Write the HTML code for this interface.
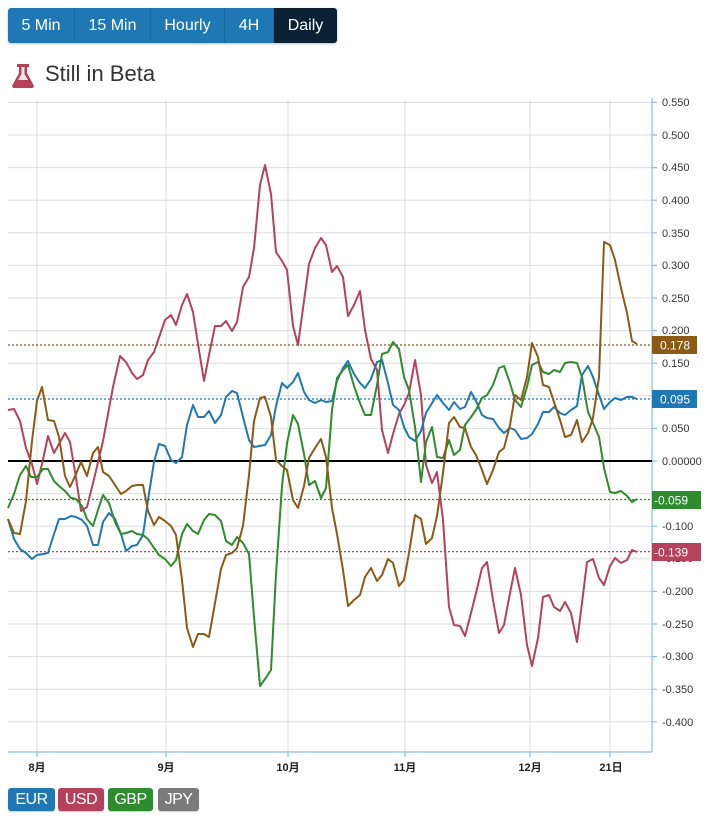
<!DOCTYPE html>
<html><head><meta charset="utf-8"><style>
body{margin:0;width:712px;height:816px;background:#fff;font-family:"Liberation Sans","Noto Sans CJK JP",sans-serif;position:relative;overflow:hidden}
.btns{position:absolute;left:8px;top:8px;height:35px;display:flex;border-radius:3px;overflow:hidden;box-shadow:0 1px 2px rgba(0,0,0,.25)}
.btns div{background:#1f78b4;color:#fff;font-size:16px;line-height:35px;text-align:center;border-right:1px solid #1a6aa0}
.title{position:absolute;left:45px;top:61px;font-size:22px;color:#333}
.leg{position:absolute;top:788px;height:23px;color:#fff;font-size:16px;line-height:23px;text-align:center;border-radius:3px;box-shadow:0 1px 1px rgba(0,0,0,.2);letter-spacing:-0.5px}
</style></head><body>
<div class="btns"><div style="width:66px">5 Min</div><div style="width:75px">15 Min</div><div style="width:73px">Hourly</div><div style="width:48px">4H</div><div style="width:63px;background:#0b2236;border:0">Daily</div></div>
<svg style="position:absolute;left:12px;top:64px" width="22" height="24" viewBox="0 0 22 24"><path d="M5 0h12v3h-2v6l6.5 12c1 1.6 0 3-1.8 3H2.3C.5 24-.5 22.6.5 21L7 9V3H5z" fill="#b5425a"/><path d="M9.5 3h3v7l3.5 6h-10l3.5-6z" fill="#fff" opacity=".85"/></svg>
<div class="title">Still in Beta</div>
<svg style="position:absolute;left:0;top:0" width="712" height="816">
<g stroke="#d9dcde" stroke-width="1">
<line x1="37" y1="100" x2="37" y2="752"/><line x1="166" y1="100" x2="166" y2="752"/><line x1="288" y1="100" x2="288" y2="752"/><line x1="405" y1="100" x2="405" y2="752"/><line x1="530" y1="100" x2="530" y2="752"/><line x1="610" y1="100" x2="610" y2="752"/>
<line x1="8" y1="102.4" x2="652" y2="102.4"/><line x1="8" y1="135" x2="652" y2="135"/><line x1="8" y1="167.6" x2="652" y2="167.6"/><line x1="8" y1="200.2" x2="652" y2="200.2"/><line x1="8" y1="232.8" x2="652" y2="232.8"/><line x1="8" y1="265.4" x2="652" y2="265.4"/><line x1="8" y1="298" x2="652" y2="298"/><line x1="8" y1="330.6" x2="652" y2="330.6"/><line x1="8" y1="363.2" x2="652" y2="363.2"/><line x1="8" y1="395.8" x2="652" y2="395.8"/><line x1="8" y1="428.4" x2="652" y2="428.4"/><line x1="8" y1="493.6" x2="652" y2="493.6"/><line x1="8" y1="526.2" x2="652" y2="526.2"/><line x1="8" y1="558.8" x2="652" y2="558.8"/><line x1="8" y1="591.4" x2="652" y2="591.4"/><line x1="8" y1="624" x2="652" y2="624"/><line x1="8" y1="656.6" x2="652" y2="656.6"/><line x1="8" y1="689.2" x2="652" y2="689.2"/><line x1="8" y1="721.8" x2="652" y2="721.8"/>
</g>
<g stroke="#8cc0e0" stroke-width="1.2"><line x1="652" y1="98" x2="652" y2="752"/><line x1="8" y1="752" x2="652" y2="752"/>
<path d="M652 102.4h5M652 135h5M652 167.6h5M652 200.2h5M652 232.8h5M652 265.4h5M652 298h5M652 330.6h5M652 363.2h5M652 395.8h5M652 428.4h5M652 461h5M652 493.6h5M652 526.2h5M652 558.8h5M652 591.4h5M652 624h5M652 656.6h5M652 689.2h5M652 721.8h5M37 752v5M166 752v5M288 752v5M405 752v5M530 752v5M610 752v5"/></g>
<line x1="8" y1="461" x2="652" y2="461" stroke="#000" stroke-width="2"/>
<g stroke-dasharray="2,2" stroke-width="1.2"><line x1="8" y1="345" x2="652" y2="345" stroke="#8b5a14"/><line x1="8" y1="399" x2="652" y2="399" stroke="#1f78b4"/><line x1="8" y1="499.5" x2="652" y2="499.5" stroke="#2e8b2e"/><line x1="8" y1="551.6" x2="652" y2="551.6" stroke="#b5425a"/></g>
<g font-size="11" fill="#333" font-family="Liberation Sans,sans-serif">
<text x="662" y="106">0.550</text><text x="662" y="139">0.500</text><text x="662" y="171">0.450</text><text x="662" y="204">0.400</text><text x="662" y="269">0.300</text><text x="662" y="237">0.350</text><text x="662" y="302">0.250</text><text x="662" y="334">0.200</text><text x="662" y="367">0.150</text><text x="662" y="432">0.050</text><text x="662" y="465">0.00000</text><text x="662" y="530">-0.100</text><text x="662" y="595">-0.200</text><text x="662" y="628">-0.250</text><text x="662" y="660">-0.300</text><text x="662" y="693">-0.350</text><text x="662" y="726">-0.400</text><text x="662" y="562">-0.150</text>
</g>
<g fill="none" stroke-width="2" stroke-linejoin="round">
<polyline stroke="#b5425a" points="8,410 14,409 20,421 26,448 32,464 37,484 42,464 48,436 54,453 65,433 70,442 76,478 81,511 87,507 95,475 103,441 113,387 120,356 126,362 132,373 137,379 143,375 148,360 154,352 165,320 171,315 176,325 182,305 187,294 193,312 198,344 204,381 209,355 215,326 221,326 226,321 232,331 237,322 243,287 249,277 254,248 260,185 265,165 271,194 276,252 282,261 287,270 293,326 298,345 304,301 309,264 315,248 321,238 326,245 332,272 337,266 343,277 348,316 354,305 360,291 365,330 371,359 377,370 382,430 388,453 393,434 399,414 404,405 409,393 415,360 421,395 426,465 432,483 437,472 443,520 449,607 454,625 460,626 465,636 471,613 476,593 482,568 487,562 493,600 499,633 504,625 510,593 515,568 521,595 527,645 532,666 538,638 543,597 549,595 554,607 560,611 565,602 571,613 577,642 582,603 587,562 593,559 599,578 604,585 610,566 615,558 621,563 627,560 632,550 637,552"/>
<polyline stroke="#1f78b4" points="8,519 14,539 20,549 26,553 32,559 37,555 43,554 48,553 53,537 59,519 65,519 71,516 76,517 82,520 87,526 93,545 98,545 103,522 109,513 115,519 121,534 126,551 132,546 137,545 143,535 148,500 154,462 159,444 165,446 171,460 176,463 182,457 187,425 193,405 198,417 204,417 209,411 215,423 221,415 226,397 232,391 237,393 243,417 249,440 254,447 259,446 265,445 271,435 276,406 282,383 287,388 293,382 298,373 304,392 309,400 315,403 321,400 326,402 332,401 337,381 343,368 348,361 354,374 360,383 365,388 371,379 377,362 382,360 388,383 393,405 399,410 404,427 409,437 415,441 421,431 426,413 432,403 437,395 443,403 449,410 454,402 460,409 465,407 471,392 476,401 482,415 487,418 493,419 499,428 504,433 510,428 515,430 521,439 527,438 532,434 538,424 543,412 549,412 554,407 560,413 565,415 571,410 577,406 582,375 588,366 593,377 599,395 604,409 610,402 615,398 621,400 627,397 632,397 637,399"/>
<polyline stroke="#2e8b2e" points="8,508 14,494 20,475 26,466 31,477 37,477 43,469 48,469 54,481 59,486 65,491 71,498 76,499 82,506 87,519 93,526 98,510 103,495 109,503 115,522 121,534 126,533 132,531 137,534 143,535 148,539 154,548 159,555 165,559 171,566 176,560 182,534 187,524 193,531 198,534 204,520 209,514 215,515 221,521 226,541 232,545 237,537 243,543 249,554 254,617 260,686 265,679 271,670 276,574 282,486 287,443 293,415 298,424 304,454 309,485 315,481 321,498 326,488 332,410 337,378 343,370 348,365 354,386 360,403 365,415 371,415 377,385 382,354 388,352 393,342 399,349 404,377 409,390 415,427 421,482 426,442 432,427 437,457 443,458 449,440 454,455 460,450 465,425 471,417 476,410 482,398 487,395 493,385 499,368 504,366 510,383 515,400 521,407 527,387 532,365 538,362 543,372 549,374 554,370 560,372 565,363 571,362 577,363 582,377 588,412 593,423 599,437 604,468 610,492 615,493 621,491 627,496 632,502 637,499"/>
<polyline stroke="#8b5a14" points="8,519 14,533 20,534 26,501 32,441 37,401 42,387 48,420 54,421 59,437 65,476 70,487 76,474 81,462 87,476 93,453 98,447 103,472 109,476 115,485 121,494 126,491 132,486 137,485 143,485 148,511 154,525 159,517 165,521 171,526 176,535 182,580 187,628 193,647 198,634 204,634 209,637 215,603 221,569 226,555 232,553 237,548 243,526 249,475 254,421 260,398 265,397 271,417 276,460 282,466 287,470 293,500 298,508 304,486 309,458 315,448 321,439 326,457 332,508 337,534 343,570 348,606 354,600 360,595 365,577 371,568 377,581 382,575 388,559 393,563 399,586 404,580 409,553 415,515 421,519 426,544 432,538 437,516 443,473 449,423 454,417 460,427 465,428 471,447 476,455 482,470 487,484 493,470 499,452 504,448 510,425 515,395 521,400 527,377 532,343 538,357 543,385 549,387 554,402 560,420 565,437 571,435 577,420 582,442 588,433 593,418 599,377 604,242 610,245 615,260 621,288 627,313 632,341 637,344"/>
</g>
<g font-size="12" fill="#fff" font-family="Liberation Sans,sans-serif">
<rect x="652" y="336" width="45" height="18" fill="#8b5a14"/><text x="660" y="349.5">0.178</text>
<rect x="652" y="390" width="45" height="18" fill="#1f78b4"/><text x="660" y="403.5">0.095</text>
<rect x="652" y="491" width="49" height="18" fill="#2e8b2e"/><text x="654" y="504.5">-0.059</text>
<rect x="652" y="543" width="49" height="18" fill="#b5425a"/><text x="654" y="556.5">-0.139</text>
</g>
<g font-size="11" font-weight="bold" fill="#222" text-anchor="middle" font-family="Liberation Sans,'Noto Sans CJK JP',sans-serif">
<text x="37" y="771">8月</text><text x="166" y="771">9月</text><text x="288" y="771">10月</text><text x="405" y="771">11月</text><text x="530" y="771">12月</text><text x="611" y="771">21日</text>
</g>
</svg>
<div class="leg" style="left:8px;width:47px;background:#1f78b4">EUR</div>
<div class="leg" style="left:58px;width:46px;background:#b5425a">USD</div>
<div class="leg" style="left:108px;width:45px;background:#2e8b2e">GBP</div>
<div class="leg" style="left:158px;width:41px;background:#7a7a7a">JPY</div>
</body></html>
